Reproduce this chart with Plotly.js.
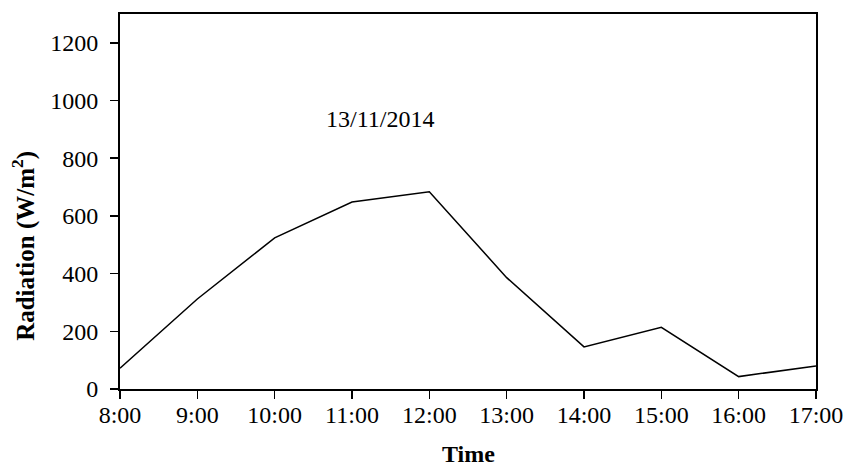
<!DOCTYPE html>
<html><head><meta charset="utf-8">
<script src="https://cdn.plot.ly/plotly-3.0.1.min.js"></script>
<style>html,body{margin:0;padding:0;background:#fff}#c{width:845px;height:467px}</style>
</head><body><div id="c"></div>
<script>
const times = ["8:00","9:00","10:00","11:00","12:00","13:00","14:00","15:00","16:00","17:00"];
const radiation = [72, 312, 524, 648, 684, 386, 146, 214, 43, 80];
const yTicks = [0, 200, 400, 600, 800, 1000, 1200];
const dateLabel = "13/11/2014";

const font = {family: "Liberation Serif, Times New Roman, serif", color: "#000"};
const f = s => Object.assign({size: s}, font);
Plotly.newPlot("c", [{
  x: times, y: radiation, type: "scatter", mode: "lines",
  line: {color: "#000", width: 1.5}, hoverinfo: "none"
}], {
  width: 845, height: 467,
  margin: {l: 120, r: 29, t: 14, b: 78},
  paper_bgcolor: "#fff", plot_bgcolor: "#fff",
  showlegend: false,
  font: f(24),
  xaxis: {
    type: "category", range: [0, 9],
    showgrid: false, zeroline: false,
    showline: true, linecolor: "#000", linewidth: 2, mirror: true,
    ticks: "outside", ticklen: 8, tickwidth: 1.5, tickcolor: "#000",
    ticklabelstandoff: -5,
    tickfont: f(24)
  },
  yaxis: {
    range: [0, 1300], tickvals: yTicks,
    showgrid: false, zeroline: false,
    showline: true, linecolor: "#000", linewidth: 2, mirror: true,
    ticks: "outside", ticklen: 8, tickwidth: 1.5, tickcolor: "#000",
    ticklabelstandoff: 7,
    tickfont: f(24)
  },
  annotations: [{
    x: 2.64, y: 935, xref: "x", yref: "y", text: dateLabel, showarrow: false,
    xanchor: "left", yanchor: "middle", font: f(24)
  }, {
    x: 0.5, y: -0.1733, xref: "paper", yref: "paper", text: "<b>Time</b>", showarrow: false,
    xanchor: "center", yanchor: "middle", font: f(24)
  }, {
    x: -0.138, y: 496, xref: "paper", yref: "y", text: "<b>Radiation (W/m<sup>2</sup>)</b>", showarrow: false,
    textangle: -90, xanchor: "center", yanchor: "middle", font: f(25)
  }]
}, {staticPlot: true});
</script></body></html>
